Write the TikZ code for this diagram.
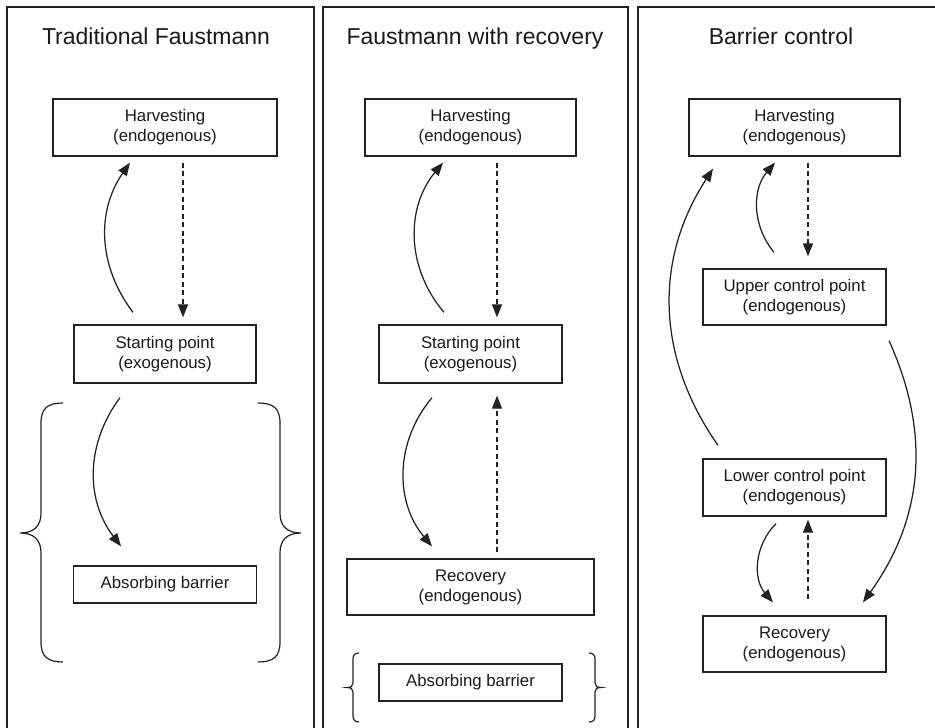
\documentclass[tikz,border=0pt]{standalone}
\usepackage{fontspec}
\setmainfont{Liberation Sans}
\usetikzlibrary{arrows.meta}
\definecolor{inkline}{HTML}{222222}
\definecolor{inktext}{HTML}{1A1A1A}

\begin{document}
\begin{tikzpicture}[x=1pt,y=1pt,
  box/.style={draw=inkline,line width=1.3pt,align=center,inner sep=0pt,
    text=inktext,font=\fontsize{16.8}{20}\selectfont},
  paneltitle/.style={anchor=base,text=inktext,font=\fontsize{23}{27}\selectfont},
  flow/.style={draw=inkline,line width=1.25pt,-{Triangle[length=13pt,width=10pt]}},
  dashflow/.style={flow,dash pattern=on 5pt off 3.5pt},
  panel/.style={draw=inkline,line width=1.5pt},
  curly/.style={draw=inkline,line width=1.2pt}]
  \useasboundingbox (0,0) rectangle (935,728);

  % (a) Traditional Faustmann.
  \draw[panel] (7,0) -- (7,721) -- (314,721) -- (314,0);
  \node[paneltitle] (tftitle) at (156,683) {Traditional Faustmann};
  \node[box,minimum width=224pt,minimum height=57pt] (tfharv) at (165,600.5)
    {Harvesting\\(endogenous)};
  \node[box,minimum width=182pt,minimum height=58pt] (tfstart) at (165,374)
    {Starting point\\(exogenous)};
  \node[box,minimum width=183pt,minimum height=37pt] (tfabs) at (165,143.5)
    {Absorbing barrier};
  \draw[flow] ([xshift=-32pt,yshift=12pt]tfstart.north) to[bend left=36]
    ([xshift=-35pt,yshift=-6pt]tfharv.south);
  \draw[dashflow] ([xshift=18pt,yshift=-6pt]tfharv.south) --
    ([xshift=18pt,yshift=7pt]tfstart.north);
  \draw[flow] ([xshift=-45pt,yshift=-14pt]tfstart.south) to[bend right=37]
    ([xshift=-44pt,yshift=19pt]tfabs.north);
  \draw[curly] (63,325) .. controls (48,325) and (41,320) .. (41,305) -- (41,215)
    .. controls (41,202) and (34,195) .. (20,195)
    .. controls (34,195) and (41,188) .. (41,175) -- (41,86)
    .. controls (41,71) and (48,66) .. (63,66);
  \draw[curly] (258,325) .. controls (273,325) and (280,320) .. (280,305) -- (280,215)
    .. controls (280,202) and (287,195) .. (301,195)
    .. controls (287,195) and (280,188) .. (280,175) -- (280,86)
    .. controls (280,71) and (273,66) .. (258,66);

  % (b) Faustmann with recovery.
  \draw[panel] (323,0) -- (323,721) -- (628,721) -- (628,0);
  \node[paneltitle] (frtitle) at (475,683) {Faustmann with recovery};
  \node[box,minimum width=211pt,minimum height=57pt] (frharv) at (470.5,600.5)
    {Harvesting\\(endogenous)};
  \node[box,minimum width=183pt,minimum height=58pt] (frstart) at (470.5,374)
    {Starting point\\(exogenous)};
  \node[box,minimum width=247pt,minimum height=56pt] (frrec) at (470.5,141)
    {Recovery\\(endogenous)};
  \node[box,minimum width=183pt,minimum height=37pt] (frabs) at (470.5,45.5)
    {Absorbing barrier};
  \draw[flow] ([xshift=-26.5pt,yshift=12pt]frstart.north) to[bend left=40]
    ([xshift=-27.5pt,yshift=-6pt]frharv.south);
  \draw[dashflow] ([xshift=26.5pt,yshift=-6pt]frharv.south) --
    ([xshift=26.5pt,yshift=7pt]frstart.north);
  \draw[flow] ([xshift=-38.5pt,yshift=-14pt]frstart.south) to[bend right=40]
    ([xshift=-38.5pt,yshift=12pt]frrec.north);
  \draw[dashflow] ([xshift=26.5pt,yshift=6pt]frrec.north) --
    ([xshift=26.5pt,yshift=-12pt]frstart.south);
  \draw[curly] (359,75) .. controls (355,75) and (353,73) .. (353,69) -- (353,45)
    .. controls (353,42) and (351,40.5) .. (347,40.5)
    .. controls (351,40.5) and (353,39) .. (353,36) -- (353,12)
    .. controls (353,8) and (355,6) .. (359,6);
  \draw[curly] (589,75) .. controls (593,75) and (595,73) .. (595,69) -- (595,45)
    .. controls (595,42) and (597,40.5) .. (601,40.5)
    .. controls (597,40.5) and (595,39) .. (595,36) -- (595,12)
    .. controls (595,8) and (593,6) .. (589,6);

  % (c) Barrier control.
  \draw[panel] (638,0) -- (638,721) -- (935,721);
  \node[paneltitle] (bctitle) at (781,683) {Barrier control};
  \node[box,minimum width=211pt,minimum height=57pt] (bcharv) at (794.5,600.5)
    {Harvesting\\(endogenous)};
  \node[box,minimum width=183pt,minimum height=56pt] (bcupper) at (794.5,431)
    {Upper control point\\(endogenous)};
  \node[box,minimum width=183pt,minimum height=57pt] (bclower) at (794.5,240.5)
    {Lower control point\\(endogenous)};
  \node[box,minimum width=183pt,minimum height=56pt] (bcrec) at (794.5,84)
    {Recovery\\(endogenous)};
  \draw[dashflow] ([xshift=13.5pt,yshift=-6pt]bcharv.south) --
    ([xshift=13.5pt,yshift=12pt]bcupper.north);
  \draw[flow] ([xshift=-20.5pt,yshift=16pt]bcupper.north) to[bend left=40]
    ([xshift=-19.5pt,yshift=-6pt]bcharv.south);
  \draw[flow] ([xshift=-76.5pt,yshift=13pt]bclower.north) to[bend left=34]
    ([xshift=-81.5pt,yshift=-12pt]bcharv.south);
  \draw[flow] ([xshift=94.5pt,yshift=-15pt]bcupper.south) to[bend left=30]
    ([xshift=68.5pt,yshift=13pt]bcrec.north);
  \draw[flow] ([xshift=-18.5pt,yshift=-7pt]bclower.south) to[bend right=43]
    ([xshift=-21.5pt,yshift=13pt]bcrec.north);
  \draw[dashflow] ([xshift=13.5pt,yshift=16pt]bcrec.north) --
    ([xshift=13.5pt,yshift=-3pt]bclower.south);
\end{tikzpicture}
\end{document}
